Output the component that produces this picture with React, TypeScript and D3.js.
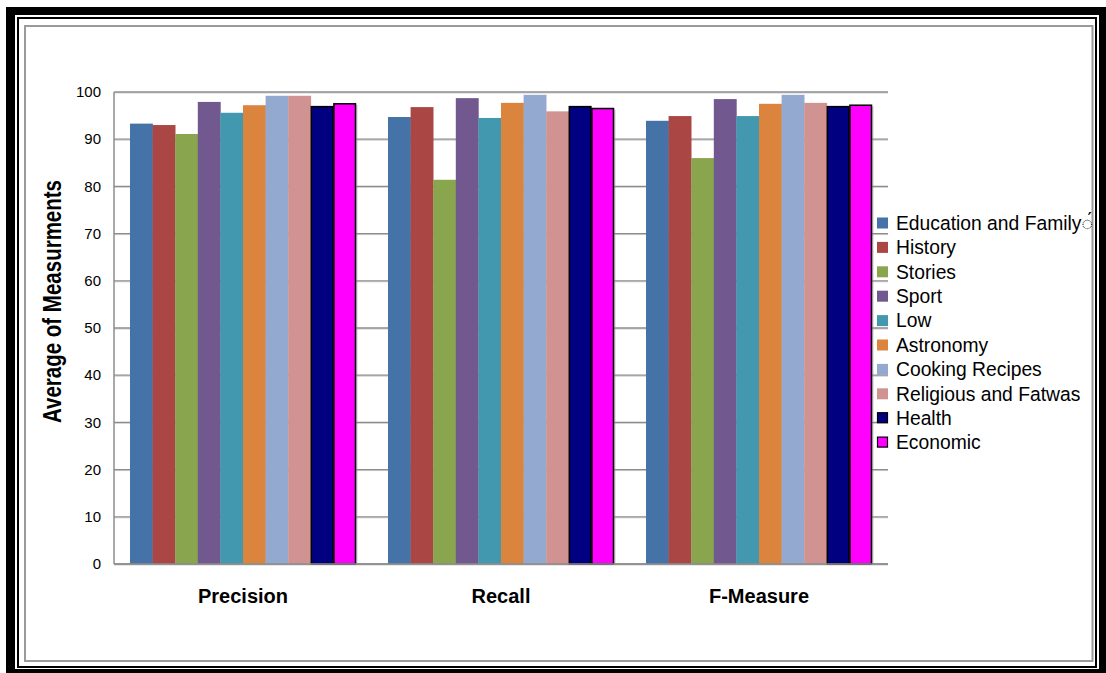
import React from "react";
import * as d3 from "d3";

const measures = ["Precision", "Recall", "F-Measure"];
const categories = [
  "Education and Family",
  "History",
  "Stories",
  "Sport",
  "Low",
  "Astronomy",
  "Cooking Recipes",
  "Religious and Fatwas",
  "Health",
  "Economic",
];
const legendLabels = [
  "Education and Family\u25CC\u0301",
  "History",
  "Stories",
  "Sport",
  "Low",
  "Astronomy",
  "Cooking Recipes",
  "Religious and Fatwas",
  "Health",
  "Economic",
];
const precision = [93.3, 93.0, 91.1, 97.9, 95.6, 97.2, 99.2, 99.2, 96.9, 97.5];
const recall = [94.7, 96.8, 81.4, 98.7, 94.5, 97.7, 99.4, 95.9, 96.9, 96.5];
const fmeasure = [93.9, 94.9, 86.0, 98.5, 94.9, 97.5, 99.4, 97.7, 96.9, 97.2];
const series = [precision, recall, fmeasure];
const colors = [
  "#4572A7",
  "#AA4643",
  "#89A54E",
  "#71588F",
  "#4198AF",
  "#DB843D",
  "#93A9CF",
  "#D19392",
  "#000080",
  "#FF00FF",
];
const outlined = [false, false, false, false, false, false, false, false, true, true];
const yTicks = [0, 10, 20, 30, 40, 50, 60, 70, 80, 90, 100];

export default function App() {
  const W = 1106;
  const H = 673;
  const left = 114;
  const right = 888;
  const top = 92;
  const bottom = 564;

  const y = d3.scaleLinear().domain([0, 100]).range([bottom, top]);
  const x0 = d3.scaleBand<string>().domain(measures).range([left, right]).paddingInner(0).paddingOuter(0);
  const groupW = x0.bandwidth();
  const gap = 0.124;
  const x1 = d3
    .scaleBand<string>()
    .domain(categories)
    .range([groupW * (gap / 2), groupW * (1 - gap / 2)])
    .padding(0);

  const font = "Arial, 'Liberation Sans', sans-serif";

  return (
    <svg
      width={W}
      height={H}
      style={{ position: "absolute", left: 0, top: 0, background: "#fff" }}
      fontFamily={font}
    >
      {/* page borders */}
      <rect x={6} y={7} width={W - 6} height={H} fill="#000" />
      <rect x={15} y={15} width={1099 - 15} height={669 - 15} fill="#fff" />
      <rect x={18} y={18} width={1096 - 18} height={667 - 18} fill="none" stroke="#000" strokeWidth={2} />
      <rect x={25} y={26} width={1092.5 - 25} height={661 - 26} fill="none" stroke="#9a9a9a" strokeWidth={2} />

      {/* gridlines */}
      {yTicks.map((t) => (
        <g key={t}>
          <line x1={left} x2={right} y1={y(t) + 1} y2={y(t) + 1} stroke="#d0d0d0" strokeWidth={1} />
          <line x1={left} x2={right} y1={y(t)} y2={y(t)} stroke="#8c8c8c" strokeWidth={1.3} />
          <text x={101} y={y(t)} dy="0.35em" textAnchor="end" fontSize={15} fill="#000">
            {t}
          </text>
        </g>
      ))}
      <line x1={left} x2={left} y1={top} y2={bottom} stroke="#8c8c8c" strokeWidth={1.5} />

      {/* bars */}
      {measures.map((m, mi) => (
        <g key={m} transform={`translate(${x0(m)},0)`}>
          {categories.map((c, ci) => {
            const v = series[mi][ci];
            const bx = x1(c)!;
            const bw = x1.bandwidth();
            return outlined[ci] ? (
              <g key={c}>
                <rect x={bx + 1.5} y={y(v) + 1} width={bw} height={bottom - y(v) - 1} fill="#999" opacity={0.5} />
                <rect
                  x={bx + 0.5}
                  y={y(v)}
                  width={bw - 1}
                  height={bottom - y(v)}
                  fill={colors[ci]}
                  stroke="#000"
                  strokeWidth={1.5}
                />
              </g>
            ) : (
              <rect key={c} x={bx} y={y(v)} width={bw + 0.3} height={bottom - y(v)} fill={colors[ci]} />
            );
          })}
          <text
            x={groupW / 2}
            y={603}
            textAnchor="middle"
            fontSize={20}
            fontWeight="bold"
            fill="#000"
          >
            {m}
          </text>
        </g>
      ))}
      <line x1={left} x2={right} y1={bottom} y2={bottom} stroke="#8c8c8c" strokeWidth={1.5} />

      {/* y-axis title */}
      <text
        transform={`translate(61, 301.5) rotate(-90)`}
        textAnchor="middle"
        fontSize={25}
        fontWeight="bold"
        fill="#000"
        textLength={243}
        lengthAdjust="spacingAndGlyphs"
      >
        Average of Measurments
      </text>

      {/* legend */}
      {legendLabels.map((l, i) => {
        const cy = 223 + i * 24.4;
        return (
          <g key={l}>
            <rect
              x={outlined[i] ? 877.5 : 877}
              y={cy - 5.5}
              width={outlined[i] ? 10 : 11}
              height={outlined[i] ? 10 : 11}
              fill={colors[i]}
              stroke={outlined[i] ? "#000" : "none"}
              strokeWidth={1.2}
            />
            <text x={896} y={cy} dy="0.35em" fontSize={19.3} fill="#000">
              {l}
            </text>
          </g>
        );
      })}
    </svg>
  );
}
